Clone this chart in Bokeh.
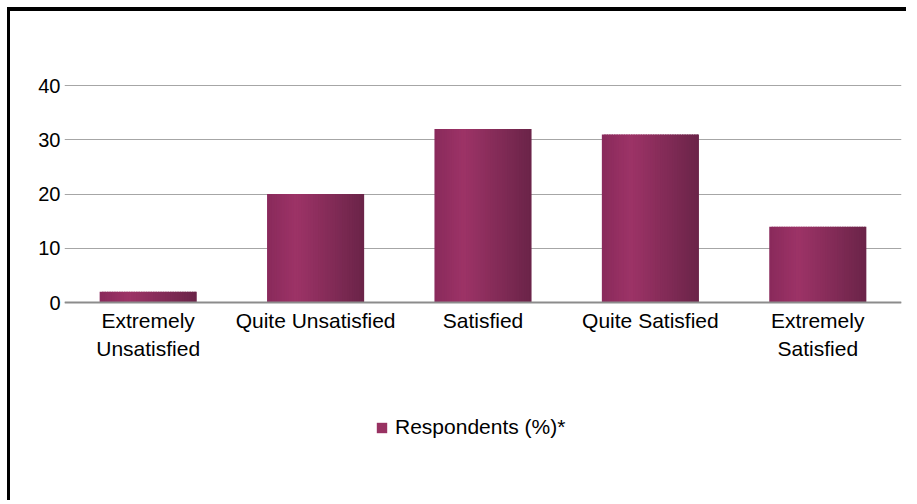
from bokeh.plotting import figure
from bokeh.layouts import column
from bokeh.models import FixedTicker, Legend, LegendItem, ColumnDataSource
from bokeh.embed import file_html
from bokeh.resources import INLINE

categories = ["Extremely\nUnsatisfied", "Quite Unsatisfied", "Satisfied", "Quite Satisfied", "Extremely\nSatisfied"]
respondents = [2, 20, 32, 31, 14]
y_ticks = [0, 10, 20, 30, 40]
series_name = "Respondents (%)*"

FONT = "Liberation Sans"
BAR_W = 0.58
N_SLICES = 40
stops = [(0.0, (137, 42, 91)), (0.3, (157, 51, 103)), (1.0, (106, 36, 72))]


def grad(t):
    for (t0, c0), (t1, c1) in zip(stops[:-1], stops[1:]):
        if t0 <= t <= t1:
            f = (t - t0) / (t1 - t0)
            return "#%02x%02x%02x" % tuple(int(round(a + (b - a) * f)) for a, b in zip(c0, c1))
    return "#%02x%02x%02x" % stops[-1][1]


left, right, top, bottom, colors = [], [], [], [], []
for i, v in enumerate(respondents):
    x0 = i - BAR_W / 2
    sw = BAR_W / N_SLICES
    for k in range(N_SLICES):
        l = x0 + k * sw
        r = l + sw * (1.6 if k < N_SLICES - 1 else 1.0)
        left.append(l)
        right.append(r)
        top.append(v)
        bottom.append(0)
        colors.append(grad((k + 0.5) / N_SLICES))

src = ColumnDataSource(dict(left=left, right=right, top=top, bottom=bottom, color=colors))

# frame spans from y=45 (top) down to the legend area; ~5.425 px per unit
p = figure(width=899, height=493, output_backend="svg", toolbar_location=None,
           x_range=(-0.5, len(categories) - 0.5), y_range=(-32.8, 45),
           min_border_left=54, min_border_right=8, min_border_top=47, min_border_bottom=24)
p.styles = {"border-top": "4px solid black", "border-left": "3px solid black"}
p.outline_line_color = None
p.background_fill_color = "white"
p.border_fill_color = "white"

p.quad(left="left", right="right", top="top", bottom="bottom", fill_color="color",
       line_color=None, source=src)

p.xgrid.grid_line_color = None
p.ygrid.grid_line_color = "#a6a6a6"
p.ygrid.grid_line_width = 1
p.ygrid.ticker = FixedTicker(ticks=y_ticks)

p.yaxis.ticker = FixedTicker(ticks=y_ticks)
p.yaxis.axis_line_color = None
p.yaxis.major_tick_line_color = None
p.yaxis.minor_tick_line_color = None
p.yaxis.major_label_text_font = FONT
p.yaxis.major_label_text_font_size = "20px"
p.yaxis.major_label_text_color = "black"
p.yaxis.major_label_standoff = -2

p.xaxis.fixed_location = 0
p.xaxis.ticker = FixedTicker(ticks=list(range(len(categories))))
p.xaxis.major_label_overrides = {i: c for i, c in enumerate(categories)}
p.xaxis.axis_line_color = "#8c8c8c"
p.xaxis.axis_line_width = 2
p.xaxis.major_tick_line_color = None
p.xaxis.minor_tick_line_color = None
p.xaxis.major_label_text_font = FONT
p.xaxis.major_label_text_font_size = "21px"
p.xaxis.major_label_text_color = "black"
p.xaxis.major_label_text_line_height = 1.25
p.xaxis.major_label_standoff = 0

dummy = p.quad(left=[0], right=[0], top=[-100], bottom=[-100], fill_color="#983262", line_color=None)
legend = Legend(items=[LegendItem(label=series_name, renderers=[dummy])],
                location=(311, 41), padding=0, margin=0, spacing=0,
                glyph_width=13, glyph_height=13, label_standoff=7,
                label_text_font=FONT, label_text_font_size="21px", label_text_color="black",
                border_line_color=None, background_fill_alpha=0)
p.add_layout(legend, "center")

root = column(p, styles={"padding-top": "7px", "padding-left": "7px", "background-color": "white"})
open("out.html", "w").write(file_html(root, INLINE))
